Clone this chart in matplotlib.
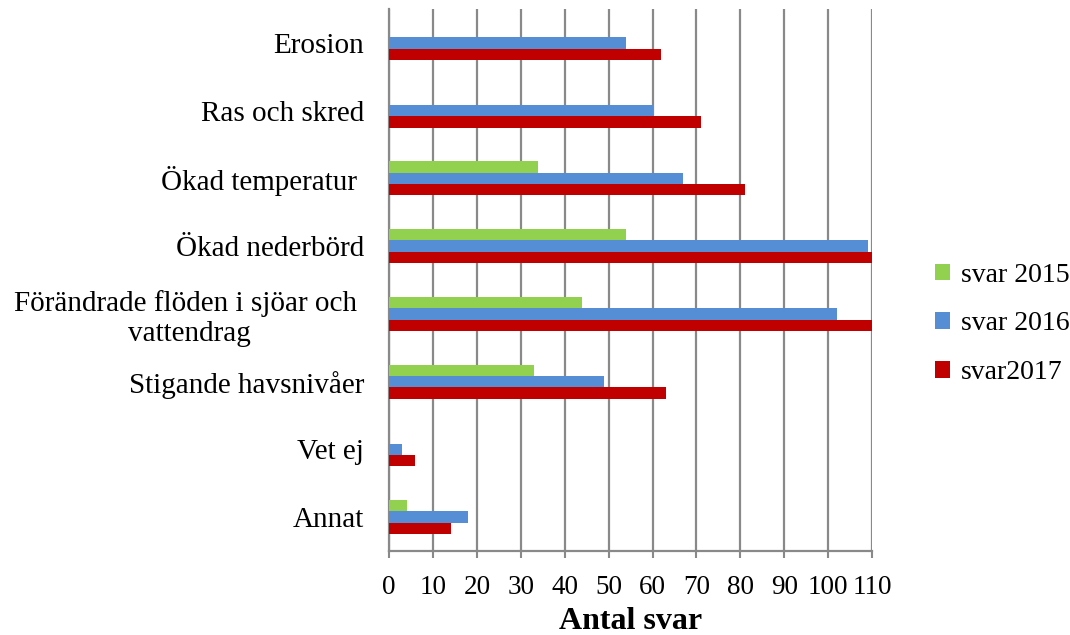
import numpy as np
import matplotlib.pyplot as plt

# data
kategorier = ['Erosion', 'Ras och skred', 'Ökad temperatur ', 'Ökad nederbörd',
              'Förändrade flöden i sjöar och \nvattendrag', 'Stigande havsnivåer',
              'Vet ej', 'Annat']
svar_2015 = [0, 0, 34, 54, 44, 33, 0, 4]
svar_2016 = [54, 60, 67, 109, 102, 49, 3, 18]
svar_2017 = [62, 71, 81, 111, 111, 63, 6, 14]
serier = ['svar 2015', 'svar 2016', 'svar2017']
farger = ['#92D050', '#558ED5', '#C00000']
xticks = list(range(0, 111, 10))

plt.rcParams['font.family'] = ['Liberation Serif', 'DejaVu Serif']

fig = plt.figure(figsize=(10.7, 6.35), dpi=100)
ax = fig.add_axes([0.3636, 0.1323, 0.4514, 0.8535])

y = np.arange(len(kategorier))
h = 1 / 6
for i, (vals, namn, f) in enumerate(zip([svar_2015, svar_2016, svar_2017], serier, farger)):
    ax.barh(y + (i - 1) * h, vals, height=h, color=f, label=namn, zorder=3)

ax.set_xlim(0, 110)
ax.set_ylim(len(kategorier) - 0.5, -0.5)
ax.set_xticks(xticks)
ax.set_xticklabels([str(t) for t in xticks], fontsize=19.5)
ax.set_yticks(y)
ax.set_yticklabels(kategorier, fontsize=21, multialignment='center')
ax.tick_params(axis='y', length=0, pad=18)
ax.tick_params(axis='x', length=5, width=1.5, color='#898989', pad=12)
ax.grid(axis='x', color='#898989', linewidth=1.6, zorder=0)

for s in ['top', 'right']:
    ax.spines[s].set_visible(False)
for s in ['left', 'bottom']:
    ax.spines[s].set_color('#898989')
    ax.spines[s].set_linewidth(1.6)

ax.set_xlabel('Antal svar', fontsize=23, fontweight='bold', labelpad=5)

fig.legend(loc='center left', bbox_to_anchor=(0.85, 0.49), frameon=False,
           fontsize=20, handlelength=0.55, handleheight=0.55, handletextpad=0.4,
           labelspacing=0.85)

fig.savefig('out.png', dpi=100)
